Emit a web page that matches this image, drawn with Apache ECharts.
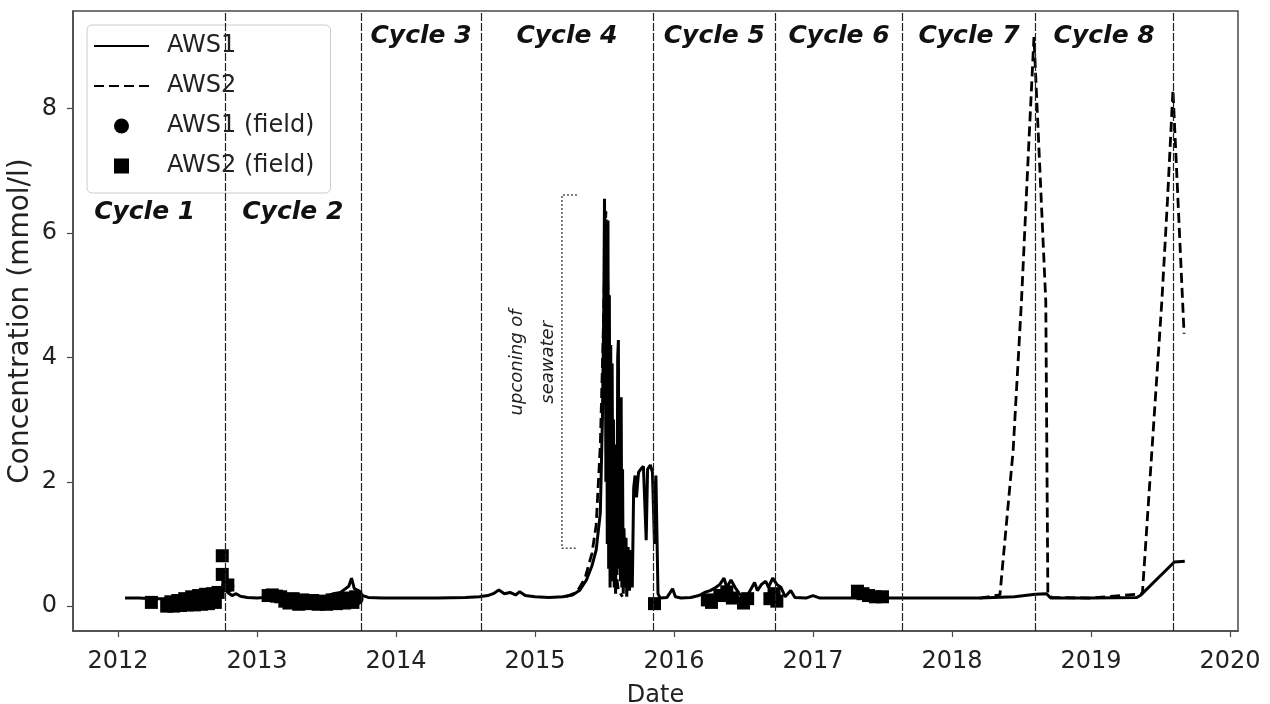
<!DOCTYPE html>
<html>
<head>
<meta charset="utf-8">
<script src="https://cdn.jsdelivr.net/npm/echarts@6/dist/echarts.min.js"></script>
<style>
  html, body { margin: 0; padding: 0; background: #ffffff; }
  #chart { width: 1270px; height: 704px; }
</style>
</head>
<body>
<div id="chart"></div>
<script>
// Time is given as decimal years, concentration in mmol/l.

// Continuous record, well AWS1
const aws1 = [
  [2012.05,0.13],[2012.15,0.13],[2012.25,0.12],[2012.35,0.12],[2012.45,0.13],[2012.55,0.14],
  [2012.62,0.15],[2012.68,0.17],[2012.72,0.2],[2012.75,0.26],[2012.77,0.3],[2012.79,0.22],
  [2012.82,0.17],[2012.85,0.2],[2012.88,0.16],[2012.93,0.14],[2013.0,0.13],[2013.05,0.14],
  [2013.1,0.2],[2013.15,0.17],[2013.2,0.13],[2013.28,0.1],[2013.36,0.12],[2013.44,0.14],
  [2013.5,0.16],[2013.55,0.2],[2013.6,0.22],[2013.63,0.27],[2013.66,0.32],[2013.68,0.45],
  [2013.7,0.28],[2013.73,0.25],[2013.76,0.17],[2013.8,0.14],[2013.9,0.13],[2014.1,0.13],
  [2014.3,0.13],[2014.5,0.14],[2014.6,0.15],[2014.66,0.17],[2014.7,0.2],[2014.74,0.26],
  [2014.78,0.2],[2014.82,0.22],[2014.86,0.18],[2014.89,0.23],[2014.93,0.17],[2015.0,0.15],
  [2015.1,0.14],[2015.2,0.15],[2015.27,0.18],[2015.32,0.25],[2015.37,0.42],[2015.41,0.65],
  [2015.44,0.9],[2015.47,1.5],[2015.485,3.0],[2015.495,4.8],[2015.5,6.55],[2015.505,5.5],
  [2015.51,2.0],[2015.515,5.8],[2015.52,1.0],[2015.525,6.2],[2015.53,0.6],[2015.535,5.0],
  [2015.54,0.3],[2015.545,4.2],[2015.55,0.4],[2015.555,3.9],[2015.56,1.2],[2015.565,3.0],
  [2015.57,0.3],[2015.575,2.6],[2015.58,0.2],[2015.585,2.2],[2015.59,0.5],[2015.595,4.0],
  [2015.6,4.28],[2015.605,0.6],[2015.61,3.0],[2015.615,0.4],[2015.62,3.36],[2015.625,0.3],
  [2015.63,2.2],[2015.635,0.2],[2015.64,1.25],[2015.65,0.3],[2015.655,1.1],[2015.66,0.15],
  [2015.67,0.95],[2015.68,0.25],[2015.69,0.9],[2015.7,0.3],[2015.71,1.9],[2015.72,2.1],
  [2015.73,1.75],[2015.745,2.15],[2015.76,2.2],[2015.78,2.25],[2015.8,1.06],[2015.81,2.2],
  [2015.83,2.27],[2015.845,2.15],[2015.86,1.0],[2015.87,2.1],[2015.885,0.2],[2015.9,0.13],
  [2015.95,0.14],[2015.99,0.28],[2016.01,0.15],[2016.05,0.13],[2016.12,0.14],[2016.18,0.17],
  [2016.22,0.22],[2016.26,0.25],[2016.3,0.3],[2016.33,0.35],[2016.36,0.45],[2016.38,0.3],
  [2016.41,0.42],[2016.44,0.3],[2016.47,0.2],[2016.5,0.13],[2016.53,0.18],[2016.56,0.3],
  [2016.58,0.38],[2016.6,0.25],[2016.63,0.35],[2016.66,0.4],[2016.68,0.3],[2016.71,0.45],
  [2016.74,0.35],[2016.77,0.3],[2016.8,0.15],[2016.84,0.25],[2016.87,0.14],[2016.95,0.13],
  [2017.0,0.17],[2017.05,0.13],[2017.3,0.13],[2017.6,0.13],[2017.9,0.13],[2018.2,0.13],
  [2018.45,0.15],[2018.6,0.19],[2018.68,0.2],[2018.71,0.13],[2019.0,0.13],[2019.33,0.14],
  [2019.36,0.18],[2019.6,0.71],[2019.675,0.72]
];

// Continuous record, well AWS2 ('-' marks a gap in the record)
const aws2 = [
  [2015.22,0.15],[2015.3,0.22],[2015.36,0.45],[2015.41,0.85],[2015.44,1.3],[2015.47,2.6],
  [2015.49,4.3],[2015.51,6.35],[2015.53,4.6],[2015.55,2.5],[2015.57,0.8],[2015.6,0.25],
  [2015.63,0.15],[2015.7,'-'],
  [2018.2,0.13],[2018.345,0.18],[2018.44,2.5],[2018.5,4.9],[2018.55,7.3],[2018.59,9.15],
  [2018.675,4.9],[2018.69,0.2],[2018.72,0.14],[2019.0,0.13],[2019.37,0.2],[2019.51,4.9],
  [2019.55,6.5],[2019.59,8.3],[2019.67,4.38]
];

// Field samples
const aws1Field = [
  [2012.79,0.32],[2013.72,0.12]
];
const aws2Field = [
  [2012.24,0.06],
  [2012.35,0.0],[2012.38,0.07],[2012.4,0.0],[2012.43,0.09],[2012.45,0.01],[2012.48,0.12],
  [2012.5,0.02],[2012.53,0.15],[2012.55,0.02],[2012.58,0.17],[2012.6,0.03],[2012.63,0.19],
  [2012.65,0.04],[2012.68,0.2],[2012.7,0.06],[2012.72,0.22],
  [2012.75,0.51],[2012.75,0.81],[2012.79,0.34],
  [2013.08,0.17],[2013.11,0.18],[2013.14,0.16],[2013.17,0.15],[2013.2,0.08],[2013.23,0.05],
  [2013.26,0.12],[2013.3,0.03],[2013.33,0.1],[2013.37,0.04],[2013.4,0.09],[2013.44,0.03],
  [2013.47,0.08],[2013.5,0.03],[2013.54,0.1],[2013.57,0.04],[2013.6,0.12],[2013.63,0.05],
  [2013.66,0.13],[2013.69,0.06],[2013.71,0.15],
  [2015.86,0.04],
  [2016.24,0.1],[2016.27,0.06],[2016.33,0.17],[2016.38,0.23],[2016.42,0.13],[2016.5,0.05],
  [2016.53,0.12],[2016.69,0.12],[2016.72,0.2],[2016.74,0.08],
  [2017.32,0.24],[2017.36,0.2],[2017.4,0.17],[2017.45,0.15],[2017.5,0.15]
];

// Ends of the pumping cycles
const cycleBounds = [2012.765, 2013.75, 2014.61, 2015.85, 2016.73, 2017.645, 2018.6, 2019.59];
const cycleNames = ['Cycle 1','Cycle 2','Cycle 3','Cycle 4','Cycle 5','Cycle 6','Cycle 7','Cycle 8'];

// Bracket spanning the seawater upconing event
const upconingBracket = [[2015.302,6.61],[2015.194,6.61],[2015.194,0.93],[2015.302,0.93]];
const upconingLines = ['upconing of', 'seawater'];

const yearTicks = [2012, 2013, 2014, 2015, 2016, 2017, 2018, 2019, 2020];
const concTicks = [0, 2, 4, 6, 8];

const X_MIN = 2011.676, X_MAX = 2020.058;
const Y_MIN = -0.4, Y_MAX = 9.57;

const FONT = '"DejaVu Sans", sans-serif';
const INK = '#222';
const SPINE = '#4a4a4a';

const chart = echarts.init(document.getElementById('chart'), null, { renderer: 'canvas' });

const option = {
  animation: false,
  backgroundColor: '#ffffff',
  grid: {
    left: 73, right: 32, top: 11, bottom: 73,
    outerBoundsMode: 'none', containLabel: false,
    show: true, borderColor: SPINE, borderWidth: 1.5, backgroundColor: 'transparent'
  },
  xAxis: {
    type: 'value', min: X_MIN, max: X_MAX,
    name: 'Date', nameLocation: 'middle', nameGap: 53, nameMoveOverlap: false,
    nameTextStyle: { fontFamily: FONT, fontSize: 24, color: INK },
    axisLine: { show: true, onZero: false, lineStyle: { color: SPINE, width: 1.5 } },
    axisTick: { show: true, inside: false, length: 6, customValues: yearTicks, lineStyle: { color: SPINE, width: 1.2 } },
    axisLabel: { customValues: yearTicks, margin: 19, fontFamily: FONT, fontSize: 24, color: INK,
                 formatter: v => String(Math.round(v)) },
    splitLine: { show: false }
  },
  yAxis: {
    type: 'value', min: Y_MIN, max: Y_MAX,
    name: 'Concentration (mmol/l)', nameLocation: 'middle', nameGap: 38, nameMoveOverlap: false,
    nameTextStyle: { fontFamily: FONT, fontSize: 28, color: INK },
    axisLine: { show: true, onZero: false, lineStyle: { color: SPINE, width: 1.5 } },
    axisTick: { show: true, inside: false, length: 6, customValues: concTicks, lineStyle: { color: SPINE, width: 1.2 } },
    axisLabel: { customValues: concTicks, margin: 16, fontFamily: FONT, fontSize: 24, color: INK },
    splitLine: { show: false }
  },
  legend: {
    orient: 'vertical', left: 87, top: 25,
    padding: [9, 16, 15, 6],
    itemWidth: 55, itemHeight: 15, itemGap: 16,
    backgroundColor: 'rgba(255,255,255,0.92)',
    borderColor: '#cccccc', borderWidth: 1, borderRadius: 5,
    textStyle: { fontFamily: FONT, fontSize: 24, color: INK, lineHeight: 24, padding: [0, 0, 0, 13] },
    data: [
      { name: 'AWS1', itemStyle: { opacity: 0 } },
      { name: 'AWS2', itemStyle: { opacity: 0 } },
      { name: 'AWS1 (field)', icon: 'circle' },
      { name: 'AWS2 (field)', icon: 'path://M0,0L10,0L10,10L0,10Z' }
    ],
    symbolKeepAspect: true,
    selectedMode: false
  },
  series: [
    {
      name: 'AWS1', type: 'line', data: aws1, showSymbol: false, symbol: 'none',
      lineStyle: { color: '#000', width: 3 }, itemStyle: { color: '#000' }, z: 3,
      markLine: {
        silent: true, symbol: ['none', 'none'], label: { show: false },
        lineStyle: { color: '#222', width: 1.2, type: [8, 2] },
        data: cycleBounds.map(v => ({ xAxis: v }))
      }
    },
    {
      name: 'AWS2', type: 'line', data: aws2, showSymbol: false, symbol: 'none', connectNulls: false,
      lineStyle: { color: '#000', width: 2.8, type: [10, 5] }, itemStyle: { color: '#000' }, z: 3
    },
    {
      name: 'AWS1 (field)', type: 'scatter', data: aws1Field, symbol: 'circle', symbolSize: 13,
      itemStyle: { color: '#000', opacity: 1 }, z: 4
    },
    {
      name: 'AWS2 (field)', type: 'scatter', data: aws2Field, symbol: 'rect', symbolSize: 13,
      itemStyle: { color: '#000', opacity: 1 }, z: 4
    },
    {
      name: 'bracket', type: 'line', data: upconingBracket, showSymbol: false, symbol: 'none',
      lineStyle: { color: '#555', width: 1.5, type: [2, 2] }, z: 2, silent: true
    }
  ]
};

chart.setOption(option);

// Annotations placed from the axis scales
const toPx = (x, y) => chart.convertToPixel({ gridIndex: 0 }, [x, y]);
const gridTop = toPx(X_MIN, Y_MAX)[1];
const graphics = [];

const edges = [X_MIN].concat(cycleBounds);
cycleNames.forEach((name, i) => {
  const xa = toPx(edges[i], 0)[0];
  const xb = toPx(edges[i + 1], 0)[0];
  const lowRow = i < 2;
  graphics.push({
    type: 'text', z: 10,
    style: {
      text: name, x: (xa + xb) / 2 - (i === 0 ? 4 : 0), y: gridTop + (lowRow ? 201 : 25),
      font: 'italic bold 25px ' + FONT, fill: '#111',
      align: 'center', verticalAlign: 'middle'
    }
  });
});

const notePos = [[2014.874, 3.92], [2015.094, 3.92]];
upconingLines.forEach((t, i) => {
  const p = toPx(notePos[i][0], notePos[i][1]);
  graphics.push({
    type: 'text', z: 10, x: p[0], y: p[1], rotation: Math.PI / 2,
    style: {
      text: t, x: 0, y: 0, font: 'italic 18px ' + FONT, fill: '#222',
      align: 'center', verticalAlign: 'middle'
    }
  });
});

chart.setOption({ graphic: graphics });
</script>
</body>
</html>
